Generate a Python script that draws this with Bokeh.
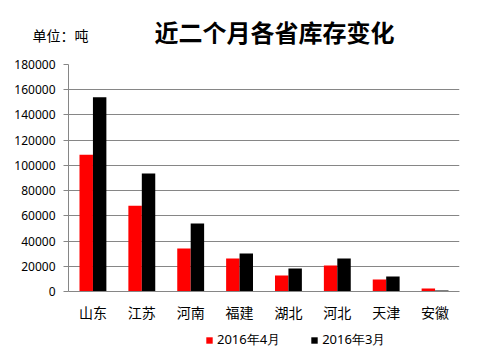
from bokeh.plotting import figure
from bokeh.layouts import column
from bokeh.models import (FactorRange, Range1d, Label, Legend, LegendItem, FixedTicker,
                          NumeralTickFormatter, ColumnDataSource)
from bokeh.transform import dodge
from bokeh.embed import file_html
from bokeh.resources import INLINE

provinces = ["山东", "江苏", "河南", "福建", "湖北", "河北", "天津", "安徽"]
apr_2016 = [108500, 68000, 34000, 26200, 12700, 20600, 9500, 2400]
mar_2016 = [154000, 93500, 54000, 30200, 18200, 26200, 11900, 800]
series_names = ["2016年4月", "2016年3月"]
series_colors = ["#FF0000", "#000000"]
y_ticks = [0, 20000, 40000, 60000, 80000, 100000, 120000, 140000, 160000, 180000]
title_text = "近二个月各省库存变化"
unit_text = "单位：吨"

W = 472

# ---- header (title + unit) ----
head = figure(width=W, height=54, output_backend="svg", toolbar_location=None,
              x_range=Range1d(0, W), y_range=Range1d(54, 0),
              x_axis_type=None, y_axis_type=None,
              min_border=0, min_border_left=0, min_border_right=0,
              min_border_top=0, min_border_bottom=0)
head.frame_align = False
head.outline_line_color = None
head.grid.visible = False
head.add_layout(Label(x=274, y=31, text=title_text, text_align="center", text_baseline="middle",
                      text_font="Noto Sans CJK SC", text_font_style="bold",
                      text_font_size="24px", text_color="black"))
head.add_layout(Label(x=32, y=34, text=unit_text, text_align="left", text_baseline="middle",
                      text_font="Noto Sans CJK SC", text_font_size="14px", text_color="black"))

# ---- main chart ----
src = ColumnDataSource(dict(prov=provinces, apr=apr_2016, mar=mar_2016))
p = figure(width=W, height=272, output_backend="svg", toolbar_location=None,
           x_range=FactorRange(*provinces, range_padding=0),
           y_range=Range1d(0, 180000),
           min_border_left=68, min_border_right=13, min_border_top=10, min_border_bottom=35)
p.outline_line_color = None

p.vbar(x=dodge("prov", -0.1375, range=p.x_range), top="apr", width=0.275, source=src,
       fill_color=series_colors[0], line_color=None)
p.vbar(x=dodge("prov", 0.1375, range=p.x_range), top="mar", width=0.275, source=src,
       fill_color=series_colors[1], line_color=None)

p.xgrid.grid_line_color = None
p.ygrid.grid_line_color = "#868686"
p.yaxis.ticker = FixedTicker(ticks=y_ticks)
p.yaxis.formatter = NumeralTickFormatter(format="0")
p.yaxis.axis_line_color = "#868686"
p.yaxis.major_tick_line_color = "#868686"
p.yaxis.major_tick_out = 5
p.yaxis.major_tick_in = 0
p.yaxis.minor_tick_line_color = None
p.yaxis.major_label_standoff = 8
p.yaxis.major_label_text_font = "Noto Sans"
p.yaxis.major_label_text_font_size = "12px"
p.yaxis.major_label_text_color = "black"

p.xaxis.axis_line_color = "#868686"
p.xaxis.major_tick_line_color = None
p.xaxis.major_tick_out = 0
p.xaxis.major_tick_in = 0
p.xaxis.minor_tick_line_color = None
p.xaxis.major_label_standoff = 10
p.xaxis.major_label_text_font = "Noto Sans CJK SC"
p.xaxis.major_label_text_font_size = "14px"
p.xaxis.major_label_text_color = "black"

# ---- footer (legend) ----
foot = figure(width=W, height=26, output_backend="svg", toolbar_location=None,
              x_range=Range1d(0, 1), y_range=Range1d(0, 1),
              x_axis_type=None, y_axis_type=None,
              min_border=0, min_border_left=0, min_border_right=0,
              min_border_top=0, min_border_bottom=0)
foot.frame_align = False
foot.outline_line_color = None
foot.grid.visible = False
# hidden legend proxies (same data, never drawn in the footer)
k1 = foot.vbar(x="apr", top="apr", width=0.5, source=src, fill_color=series_colors[0],
               line_color=None, visible=False)
k2 = foot.vbar(x="mar", top="mar", width=0.5, source=src, fill_color=series_colors[1],
               line_color=None, visible=False)
legend = Legend(items=[LegendItem(label=series_names[0], renderers=[k1]),
                       LegendItem(label=series_names[1], renderers=[k2])],
                orientation="horizontal", location=(205, 3),
                glyph_width=8, glyph_height=8, label_standoff=4, spacing=30,
                label_height=16, padding=0, margin=0, border_line_color=None,
                background_fill_alpha=0, inactive_fill_alpha=0,
                label_text_font="Noto Sans", label_text_font_size="13px",
                label_text_color="black")
foot.add_layout(legend, "center")

layout = column(head, p, foot, spacing=0)
open("out.html", "w").write(file_html(layout, INLINE))
